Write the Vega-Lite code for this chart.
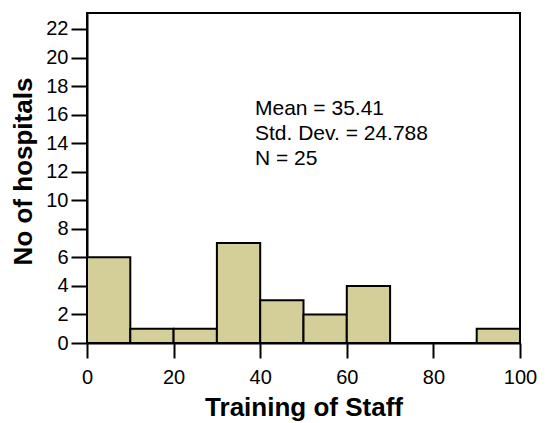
{
  "$schema": "https://vega.github.io/schema/vega-lite/v6.json",
  "autosize": "none",
  "width": 433,
  "height": 330,
  "padding": {"left": 87, "top": 13, "right": 26, "bottom": 80},
  "background": "white",
  "config": {
    "font": "Liberation Sans",
    "view": {"stroke": "black", "strokeWidth": 2},
    "axis": {
      "grid": false,
      "domainColor": "black",
      "domainWidth": 2,
      "tickColor": "black",
      "tickWidth": 2,
      "labelColor": "black",
      "titleColor": "black",
      "labelFont": "Liberation Sans",
      "titleFont": "Liberation Sans",
      "labelFontSize": 20,
      "titleFontSize": 26,
      "titleFontWeight": "bold"
    }
  },
  "layer": [
    {
      "data": {
        "values": [
          {"start": 0, "end": 10, "count": 6},
          {"start": 10, "end": 20, "count": 1},
          {"start": 20, "end": 30, "count": 1},
          {"start": 30, "end": 40, "count": 7},
          {"start": 40, "end": 50, "count": 3},
          {"start": 50, "end": 60, "count": 2},
          {"start": 60, "end": 70, "count": 4},
          {"start": 70, "end": 80, "count": 0},
          {"start": 80, "end": 90, "count": 0},
          {"start": 90, "end": 100, "count": 1}
        ]
      },
      "mark": {"type": "rect", "fill": "#d4cf98", "stroke": "black", "strokeWidth": 2},
      "encoding": {
        "x": {
          "field": "start", "type": "quantitative",
          "scale": {"domain": [0, 100], "nice": false, "zero": false},
          "axis": {
            "title": "Training of Staff",
            "values": [0, 20, 40, 60, 80, 100],
            "tickSize": 15,
            "labelPadding": 9,
            "labelFlush": false,
            "labelOverlap": false,
            "titleBaseline": "alphabetic",
            "titleY": 72
          }
        },
        "x2": {"field": "end"},
        "y": {
          "field": "count", "type": "quantitative",
          "scale": {"domain": [0, 23.12], "nice": false},
          "axis": {
            "title": "No of hospitals",
            "values": [0, 2, 4, 6, 8, 10, 12, 14, 16, 18, 20, 22],
            "tickSize": 16,
            "labelPadding": 3,
            "labelOverlap": false,
            "labelFlush": false,
            "titleAngle": 270,
            "titleBaseline": "middle",
            "titleX": -64,
            "titleY": 158
          }
        },
        "y2": {"datum": 0}
      }
    },
    {
      "data": {
        "values": [
          {"label": "Mean = 35.41", "px": 38.8, "py": 16.0},
          {"label": "Std. Dev. = 24.788", "px": 38.8, "py": 14.25},
          {"label": "N = 25", "px": 38.8, "py": 12.5}
        ]
      },
      "mark": {"type": "text", "align": "left", "baseline": "alphabetic", "fontSize": 21, "font": "Liberation Sans", "color": "black"},
      "encoding": {
        "x": {
          "field": "px", "type": "quantitative",
          "axis": {
            "title": "Training of Staff",
            "values": [0, 20, 40, 60, 80, 100],
            "tickSize": 15,
            "labelPadding": 9,
            "labelFlush": false,
            "labelOverlap": false,
            "titleBaseline": "alphabetic",
            "titleY": 72
          }
        },
        "y": {
          "field": "py", "type": "quantitative",
          "axis": {
            "title": "No of hospitals",
            "values": [0, 2, 4, 6, 8, 10, 12, 14, 16, 18, 20, 22],
            "tickSize": 16,
            "labelPadding": 3,
            "labelOverlap": false,
            "labelFlush": false,
            "titleAngle": 270,
            "titleBaseline": "middle",
            "titleX": -64,
            "titleY": 158
          }
        },
        "text": {"field": "label"}
      }
    }
  ]
}
